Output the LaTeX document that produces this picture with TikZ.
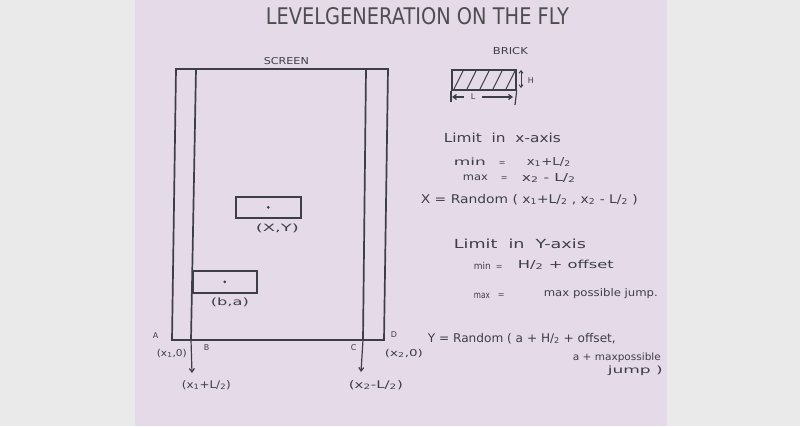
\documentclass[tikz,border=0pt]{standalone}
\usepackage{fontspec}
\setmainfont{DejaVu Sans}
\usepackage{graphicx}
\usetikzlibrary{arrows.meta}
\definecolor{bgray}{RGB}{234,234,234}
\definecolor{paper}{RGB}{229,219,232}
\definecolor{ink}{RGB}{62,62,72}
\definecolor{titleink}{RGB}{78,78,82}
\newcommand{\hw}[2]{\resizebox{#1}{\height}{#2}}
\newcommand{\hf}[1]{#1/\textsubscript{2}}
\begin{document}
\begin{tikzpicture}[x=1pt,y=-1pt, line width=1.7pt, draw=ink,
  every node/.style={inner sep=0pt, text=ink},
  txt/.style={anchor=base west, font=\fontsize{#1}{#1}\selectfont},
  arr/.style={-{Straight Barb[length=3.5pt,width=5pt]}, line width=1.2pt},
  brickbox/.style={draw, minimum width=#1, minimum height=21pt},
  hatch/.style={line width=1.1pt}]
\useasboundingbox (0,0) rectangle (800,426);
\fill[bgray] (0,0) rectangle (800,426);
\fill[paper] (135,0) rectangle (667,426);

% title
\node[txt=22, text=titleink] (title) at (265,24) {\resizebox{303pt}{17pt}{LEVELGENERATION ON THE FLY}};

% screen
\node[txt=9.5] (screenlab) at (263,64) {\hw{45pt}{SCREEN}};
\coordinate (TL) at (176,69);
\coordinate (TR) at (388,69);
\coordinate (A) at (172,340);
\coordinate (D) at (384,340);
\coordinate (Bt) at (196,69);
\coordinate (B) at (191,340);
\coordinate (Ct) at (366,69);
\coordinate (C) at (363,340);
\draw (TL) -- (A) -- (D) -- (TR) -- cycle;
\draw (Bt) -- (B);
\draw (Ct) -- (C);

% bricks on screen
\node[brickbox=65pt, anchor=north west] (xy) at (235,196) {};
\fill[ink] (xy.center) circle (1.5pt);
\node[txt=10] (xylab) at (255,231) {\hw{43pt}{(X,Y)}};
\node[brickbox=64pt, minimum height=22pt, anchor=north west] (ba) at (192,270) {};
\fill[ink] (ba.center) circle (1.5pt);
\node[txt=10] (balab) at (210,305) {\hw{38pt}{(b,a)}};

% corner labels
\node[txt=8] (Alab) at (152,338) {A};
\node[txt=9.5] (Acoord) at (156,356) {\hw{30pt}{(x\textsubscript{1},0)}};
\node[txt=8] (Blab) at (203,350) {B};
\node[txt=8] (Clab) at (350,350) {C};
\node[txt=8] (Dlab) at (390,337) {D};
\node[txt=9.5] (Dcoord) at (384,356) {\hw{38pt}{(x\textsubscript{2},0)}};
\coordinate (Bend) at (192,373);
\coordinate (Cend) at (361,372);
\draw[arr] (B) -- (Bend);
\draw[arr] (C) -- (Cend);
\node[txt=10.5] (Bval) at (181,388) {\hw{49pt}{(x\textsubscript{1}+\hf{L})}};
\node[txt=10.5] (Cval) at (348,388) {\hw{54pt}{(x\textsubscript{2}-\hf{L})}};

% brick legend
\node[txt=9.5] (bricklab) at (492,54) {\hw{35pt}{BRICK}};
\node[draw, minimum width=64pt, minimum height=20pt, anchor=north west] (brick) at (451,69) {};
\begin{scope}
  \clip (brick.south west) rectangle (brick.north east);
  \foreach \x in {441,454,467,480,493,506}
    \draw[hatch] (\x,89) -- (\x+10,69);
\end{scope}
\coordinate (bRx) at (515,105);
\coordinate (bLx) at (451,102);
\draw[line width=1.2pt] (brick.south east) -- (bRx);
\draw[line width=1.2pt] (brick.south west) -- (bLx);
\node[font=\fontsize{8}{8}\selectfont, inner xsep=6pt] (Llab) at (473,97) {L};
\coordinate (Lleft) at (452,97);
\coordinate (Lright) at (513,97);
\draw[arr] (Llab.west) -- (Lleft);
\draw[arr] (Llab.east) -- (Lright);
\coordinate (Ht) at (521,70);
\coordinate (Hb) at (521,88);
\draw[line width=1pt, {Straight Barb[length=2.5pt,width=4pt]}-{Straight Barb[length=2.5pt,width=4pt]}] (Ht) -- (Hb);
\node[font=\fontsize{8}{8}\selectfont] (Hlab) at (531,81) {H};

% x-axis limits
\node[txt=12.5] (limx) at (443,142) {\hw{117pt}{Limit~~in~~x-axis}};
\node[txt=10] (minx) at (453,165) {\hw{32pt}{min}};
\node[txt=8] (eqminx) at (498,165) {=};
\node[txt=11] (minxv) at (526,165) {\hw{44pt}{x\textsubscript{1}+\hf{L}}};
\node[txt=10] (maxx) at (462,180) {\hw{25pt}{max}};
\node[txt=8] (eqmaxx) at (500,180) {=};
\node[txt=11] (maxxv) at (521,181) {\hw{54pt}{x\textsubscript{2} - \hf{L}}};
\node[txt=12] (randx) at (420,203) {\hw{217pt}{X = Random ( x\textsubscript{1}+\hf{L} , x\textsubscript{2} - \hf{L} )}};

% y-axis limits
\node[txt=12.5] (limy) at (453,248) {\hw{132pt}{Limit~~in~~Y-axis}};
\node[txt=9.5] (miny) at (473,269) {\hw{17pt}{min}};
\node[txt=8] (eqminy) at (495,269) {=};
\node[txt=11] (minyv) at (517,268) {\hw{96pt}{\hf{H} + offset}};
\node[txt=9.5] (maxy) at (473,298) {\hw{16pt}{max}};
\node[txt=8] (eqmaxy) at (497,297) {=};
\node[txt=10.5] (maxyv) at (543,296) {\hw{114pt}{max possible jump.}};

% Y random
\node[txt=12] (randy) at (427,342) {\hw{188pt}{Y = Random ( a + \hf{H} + offset,}};
\node[txt=10] (randy2) at (572,360) {\hw{88pt}{a + maxpossible}};
\node[txt=10] (randy3) at (607,373) {\hw{55pt}{jump )}};
\end{tikzpicture}
\end{document}
